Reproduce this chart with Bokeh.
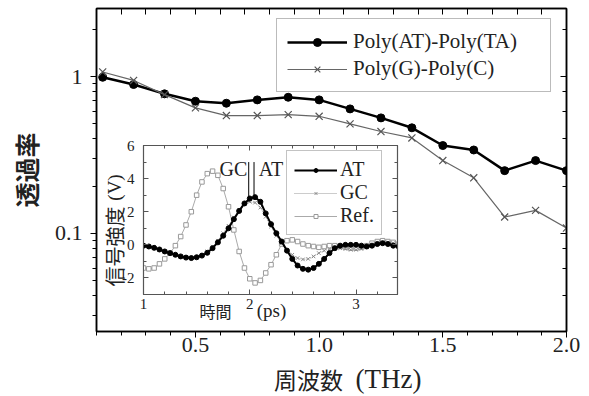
import numpy as np
from bokeh.plotting import figure
from bokeh.models import (Range1d, LogAxis, LinearAxis, FixedTicker, Legend, LegendItem,
                          Label, CustomJSTickFormatter, NumeralTickFormatter)
from bokeh.layouts import column
from bokeh.embed import file_html
from bokeh.resources import INLINE

# ---------------- main chart data ----------------
freq_thz = [0.125, 0.25, 0.375, 0.5, 0.625, 0.75, 0.875, 1.0,
            1.125, 1.25, 1.375, 1.5, 1.625, 1.75, 1.875, 2.0]
trans_at = [0.99, 0.89, 0.776, 0.696, 0.676, 0.71, 0.738, 0.71,
            0.622, 0.545, 0.471, 0.363, 0.34, 0.251, 0.291, 0.251]
trans_gc = [1.07, 0.945, 0.767, 0.631, 0.564, 0.564, 0.572, 0.558,
            0.499, 0.446, 0.406, 0.291, 0.226, 0.127, 0.140, 0.108]
x_major = [0.5, 1.0, 1.5, 2.0]
x_minor = [0.1, 0.2, 0.3, 0.4, 0.6, 0.7, 0.8, 0.9, 1.1, 1.2, 1.3, 1.4, 1.6, 1.7, 1.8, 1.9]
x_top = [0.1, 0.2, 0.3, 0.4, 0.5, 0.6, 0.7, 0.8, 0.9, 1.0, 1.1, 1.2, 1.3, 1.4, 1.5, 1.6, 1.7, 1.8, 1.9, 2.0]

# ---------------- inset data ----------------
time_ps = [1.00, 1.05, 1.10, 1.15, 1.20, 1.25, 1.30, 1.35, 1.40, 1.45,
           1.50, 1.55, 1.60, 1.65, 1.70, 1.75, 1.80, 1.85, 1.90, 1.95,
           2.00, 2.05, 2.10, 2.15, 2.20, 2.25, 2.30, 2.35, 2.40, 2.45,
           2.50, 2.55, 2.60, 2.65, 2.70, 2.75, 2.80, 2.85, 2.90, 2.95,
           3.00, 3.05, 3.10, 3.15, 3.20, 3.25, 3.30, 3.35, 3.40]
sig_at = [-0.05, -0.10, -0.18, -0.28, -0.40, -0.50, -0.60, -0.70, -0.77, -0.80,
          -0.75, -0.65, -0.48, -0.20, 0.15, 0.55, 1.00, 1.55, 2.05, 2.50,
          2.80, 2.88, 2.60, 1.90, 1.25, 0.70, 0.20, -0.35, -0.85, -1.25,
          -1.45, -1.50, -1.40, -1.15, -0.85, -0.50, -0.20, -0.05, 0.00, 0.00,
          0.00, -0.05, -0.10, -0.05, 0.05, 0.10, 0.05, -0.05, -0.10]
sig_gc = [-0.05, -0.10, -0.20, -0.30, -0.40, -0.50, -0.60, -0.70, -0.75, -0.78,
          -0.72, -0.60, -0.40, -0.12, 0.25, 0.70, 1.15, 1.65, 2.10, 2.45,
          2.60, 2.55, 2.25, 1.70, 1.10, 0.55, 0.10, -0.30, -0.60, -0.80,
          -0.88, -0.85, -0.70, -0.50, -0.35, -0.25, -0.20, -0.20, -0.25, -0.30,
          -0.30, -0.25, -0.15, -0.05, 0.05, 0.15, 0.15, 0.10, 0.00]
sig_ref = [-1.40, -1.45, -1.40, -1.15, -0.85, -0.50, -0.05, 0.50, 1.20, 2.00,
           3.00, 3.80, 4.30, 4.45, 4.20, 3.40, 2.30, 0.90, -0.40, -1.40,
           -2.05, -2.30, -2.15, -1.70, -1.20, -0.60, 0.05, 0.25, 0.30, 0.20,
           0.05, -0.05, -0.10, -0.15, -0.10, -0.05, -0.05, -0.10, -0.15, -0.20,
           -0.20, -0.15, -0.05, 0.10, 0.20, 0.25, 0.20, 0.15, 0.05]
inset_x_major = [1, 2, 3]
inset_x_minor = [1.2, 1.4, 1.6, 1.8, 2.2, 2.4, 2.6, 2.8, 3.2]
inset_y_major = [-2, 0, 2, 4, 6]
inset_y_minor = [-3, -1, 1, 3, 5]

SERIF = "Liberation Serif"
CJK = "Noto Sans CJK JP"
TXT = "#222222"


def blank():
    return CustomJSTickFormatter(code="return '';")


# ================= main figure =================
p = figure(width=583, height=392, x_range=Range1d(0.1, 2.0), y_range=Range1d(0.0236, 2.72),
           y_axis_type="log", output_backend="svg", toolbar_location=None,
           min_border_left=96, min_border_right=17, min_border_top=8, min_border_bottom=61)
p.grid.visible = False
p.outline_line_color = "black"
p.outline_line_width = 1.5

xa = p.xaxis[0]
xa.ticker = FixedTicker(ticks=x_major, minor_ticks=x_minor)
xa.formatter = NumeralTickFormatter(format="0.0")
ya = p.yaxis[0]
ya.formatter = CustomJSTickFormatter(code="return tick < 1 ? tick.toFixed(1) : tick.toFixed(0);")
for ax in (xa, ya):
    ax.axis_line_width = 1.5
    ax.major_tick_out = 6
    ax.major_tick_in = 0
    ax.minor_tick_out = 4
    ax.minor_tick_in = 0
    ax.major_label_text_font = SERIF
    ax.major_label_text_font_size = "22px"
    ax.major_label_text_color = TXT
xa.major_label_standoff = 0
ya.major_label_standoff = 8
ya.axis_label = "透過率"
ya.axis_label_text_font = CJK
ya.axis_label_text_font_style = "bold"
ya.axis_label_text_font_size = "25px"
ya.axis_label_text_color = TXT
ya.axis_label_standoff = 8

p.add_layout(LinearAxis(ticker=FixedTicker(ticks=x_top, minor_ticks=[]), formatter=blank(),
                        major_tick_in=6, major_tick_out=0, minor_tick_in=0, minor_tick_out=0,
                        major_label_standoff=0, axis_line_width=1.5), "above")
p.add_layout(LogAxis(formatter=blank(), major_tick_in=6, major_tick_out=0, minor_tick_in=4,
                     minor_tick_out=0, major_label_standoff=0, axis_line_width=1.5), "right")

r_at_l = p.line(freq_thz, trans_at, line_color="black", line_width=2.5)
r_at_m = p.scatter(freq_thz, trans_at, marker="circle", size=8, fill_color="black", line_color="black")
r_gc_l = p.line(freq_thz, trans_gc, line_color="#666666", line_width=1.2)
r_gc_m = p.scatter(freq_thz, trans_gc, marker="x", size=10, line_color="#555555", line_width=1.2)

leg = Legend(items=[LegendItem(label="Poly(AT)-Poly(TA)", renderers=[r_at_l, r_at_m]),
                    LegendItem(label="Poly(G)-Poly(C)", renderers=[r_gc_l, r_gc_m])],
             location=(180, 239), padding=10, spacing=2, glyph_width=60, glyph_height=20,
             label_standoff=6, label_width=187, label_text_font=SERIF, label_text_font_size="21px",
             label_text_color=TXT, border_line_color="#777777", border_line_width=1.5,
             background_fill_color="white", background_fill_alpha=1.0)
p.add_layout(leg, "center")

# ================= inset figure =================
q = figure(width=367, height=195, x_range=Range1d(1.0, 3.39), y_range=Range1d(-3, 6),
           output_backend="svg", toolbar_location=None,
           min_border_left=96, min_border_right=17, min_border_top=12, min_border_bottom=34,
           border_fill_color=None, background_fill_color="white")
q.grid.visible = False
q.outline_line_color = "#555555"
q.outline_line_width = 1.2
qx = q.xaxis[0]
qy = q.yaxis[0]
qx.ticker = FixedTicker(ticks=inset_x_major, minor_ticks=inset_x_minor)
qy.ticker = FixedTicker(ticks=inset_y_major, minor_ticks=inset_y_minor)
qy.formatter = CustomJSTickFormatter(code="return tick.toFixed(0);")
qx.formatter = CustomJSTickFormatter(code="return tick.toFixed(0);")
for ax in (qx, qy):
    ax.axis_line_color = "#555555"
    ax.major_tick_line_color = "#555555"
    ax.minor_tick_line_color = "#555555"
    ax.major_tick_in = 5
    ax.major_tick_out = 0
    ax.minor_tick_in = 3
    ax.minor_tick_out = 0
    ax.major_label_text_font = SERIF
    ax.major_label_text_font_size = "15px"
    ax.major_label_text_color = TXT
qx.major_label_standoff = 4
qy.major_label_standoff = 9
q.add_layout(LinearAxis(ticker=FixedTicker(ticks=inset_x_major, minor_ticks=inset_x_minor),
                        formatter=blank(), major_tick_in=5, major_tick_out=0, minor_tick_in=3,
                        minor_tick_out=0, axis_line_color="#555555", major_tick_line_color="#555555",
                        minor_tick_line_color="#555555", major_label_standoff=0), "above")
q.add_layout(LinearAxis(ticker=FixedTicker(ticks=inset_y_major, minor_ticks=inset_y_minor),
                        formatter=blank(), major_tick_in=5, major_tick_out=0, minor_tick_in=3,
                        minor_tick_out=0, axis_line_color="#555555", major_tick_line_color="#555555",
                        minor_tick_line_color="#555555", major_label_standoff=0), "right")

r_ref_l = q.line(time_ps, sig_ref, line_color="#aaaaaa", line_width=1)
r_ref_m = q.scatter(time_ps, sig_ref, marker="square", size=4.5, fill_color="white",
                    line_color="#999999", line_width=1)
r_gc2_l = q.line(time_ps, sig_gc, line_color="#999999", line_width=1, line_dash="1 1")
r_gc2_m = q.scatter(time_ps, sig_gc, marker="x", size=5, line_color="#888888", line_width=1)
r_at2_l = q.line(time_ps, sig_at, line_color="black", line_width=2)
r_at2_m = q.scatter(time_ps, sig_at, marker="circle", size=5, fill_color="black", line_color="black")

i_at = int(np.argmax(sig_at))
i_gc = int(np.argmax(sig_gc))
q.segment(x0=[time_ps[i_gc] - 0.01, time_ps[i_at] - 0.01], y0=[sig_gc[i_gc], sig_at[i_at]],
          x1=[time_ps[i_gc] - 0.01, time_ps[i_at] - 0.01], y1=[5.0, 5.0],
          line_color="black", line_width=1)
q.add_layout(Label(x=1.976, y=4.6, text="GC", text_font=SERIF, text_font_size="20px",
                   text_align="right", text_baseline="middle", text_color=TXT))
q.add_layout(Label(x=2.085, y=4.6, text="AT", text_font=SERIF, text_font_size="20px",
                   text_align="left", text_baseline="middle", text_color=TXT))

ileg = Legend(items=[LegendItem(label="AT", renderers=[r_at2_l, r_at2_m]),
                     LegendItem(label="GC", renderers=[r_gc2_l, r_gc2_m]),
                     LegendItem(label="Ref.", renderers=[r_ref_l, r_ref_m])],
              location=(143, 59), padding=7, spacing=0, glyph_width=43, glyph_height=10,
              label_standoff=3, label_text_font=SERIF, label_text_font_size="20px",
              label_text_color=TXT, border_line_color="#888888", border_line_width=1.5,
              background_fill_color="white", background_fill_alpha=1.0)
q.add_layout(ileg, "center")

# ================= transparent text layer (axis titles outside the frames) =================
t = figure(width=583, height=256, x_range=Range1d(96, 566), y_range=Range1d(396, 140),
           output_backend="svg", toolbar_location=None, x_axis_location=None, y_axis_location=None,
           min_border_left=96, min_border_right=17, min_border_top=0, min_border_bottom=0,
           border_fill_color=None, background_fill_color=None, outline_line_color=None)
t.grid.visible = False
t.add_layout(Label(x=308, y=378, text="周波数", text_font=CJK, text_font_size="23px",
                   text_align="center", text_baseline="middle", text_color=TXT))
t.add_layout(Label(x=388, y=378, text="(THz)", text_font=SERIF, text_font_size="27px",
                   text_align="center", text_baseline="middle", text_color=TXT))
t.add_layout(Label(x=215, y=310, text="時間", text_font=CJK, text_font_size="16px",
                   text_align="center", text_baseline="middle", text_color=TXT))
t.add_layout(Label(x=271, y=310, text="(ps)", text_font=SERIF, text_font_size="19px",
                   text_align="center", text_baseline="middle", text_color=TXT))
t.add_layout(Label(x=114, y=246, text="信号強度", text_font=CJK, text_font_size="20px",
                   angle=np.pi / 2, text_align="center", text_baseline="middle", text_color=TXT))
t.add_layout(Label(x=114, y=187, text="(V)", text_font=SERIF, text_font_size="19px",
                   angle=np.pi / 2, text_align="center", text_baseline="middle", text_color=TXT))

q.styles = {"position": "absolute", "left": "47px", "top": "133px", "z-index": "10"}
t.styles = {"position": "absolute", "left": "0px", "top": "140px", "z-index": "20"}
lay = column(p, q, t)

open("out.html", "w").write(file_html(lay, INLINE))
